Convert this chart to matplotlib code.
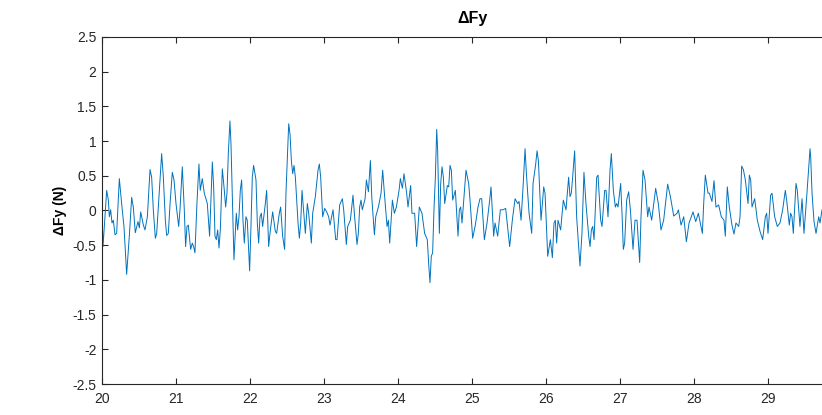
import numpy as np
import matplotlib
matplotlib.use('Agg')
import matplotlib.pyplot as plt

plt.rcParams['font.family'] = ['Liberation Sans', 'DejaVu Sans']
plt.rcParams['axes.unicode_minus'] = False

# values (time in s, force change in N)
t = [20.000, 20.014, 20.063, 20.086, 20.099, 20.117, 20.135, 20.153, 20.176, 20.198,
     20.234, 20.270, 20.297, 20.333, 20.369, 20.401, 20.423, 20.450, 20.486, 20.505,
     20.523, 20.559, 20.581, 20.613, 20.649, 20.671, 20.694, 20.721, 20.739, 20.770,
     20.806, 20.829, 20.856, 20.874, 20.896, 20.923, 20.950, 20.973, 21.000, 21.036,
     21.054, 21.085, 21.112, 21.130, 21.148, 21.166, 21.198, 21.220, 21.238, 21.256,
     21.283, 21.310, 21.328, 21.355, 21.382, 21.423, 21.454, 21.491, 21.509, 21.527,
     21.545, 21.563, 21.581, 21.599, 21.626, 21.653, 21.671, 21.689, 21.707, 21.729,
     21.743, 21.761, 21.783, 21.815, 21.833, 21.851, 21.869, 21.887, 21.905, 21.923,
     21.945, 21.963, 21.995, 22.013, 22.031, 22.049, 22.067,
     22.081, 22.099, 22.117, 22.135, 22.153, 22.171, 22.207, 22.225, 22.252, 22.270,
     22.306, 22.342, 22.360, 22.396, 22.414, 22.441, 22.468, 22.486, 22.505, 22.523,
     22.541, 22.559, 22.577, 22.595, 22.613, 22.649, 22.667, 22.685, 22.703, 22.721,
     22.748, 22.775, 22.793, 22.829, 22.847, 22.883, 22.919, 22.937, 22.955, 22.982,
     23.009, 23.036, 23.063, 23.081,
     23.104, 23.122, 23.158, 23.176, 23.212, 23.248, 23.266, 23.302, 23.320, 23.356,
     23.392, 23.410, 23.446, 23.464, 23.482, 23.500, 23.518, 23.555, 23.573, 23.600,
     23.627, 23.645, 23.681, 23.699, 23.735, 23.771, 23.793, 23.816, 23.852, 23.870,
     23.888, 23.924, 23.951, 23.978, 24.014, 24.032, 24.059,
     24.081, 24.117, 24.135, 24.171, 24.189, 24.225, 24.252, 24.270, 24.288, 24.324,
     24.360, 24.396, 24.414, 24.432, 24.450, 24.468, 24.486, 24.505, 24.523, 24.536,
     24.559, 24.577, 24.595, 24.613, 24.631, 24.667, 24.685, 24.703, 24.721, 24.739,
     24.775, 24.811, 24.829, 24.847, 24.865, 24.901, 24.919, 24.955, 24.973, 25.009,
     25.045, 25.081, 25.108,
     25.131, 25.167, 25.203, 25.239, 25.257, 25.293, 25.311, 25.347, 25.383, 25.419,
     25.455, 25.509, 25.545, 25.582, 25.618, 25.636, 25.663, 25.690, 25.717, 25.735,
     25.771, 25.807, 25.825, 25.861, 25.879, 25.897, 25.933, 25.969, 25.987, 26.023,
     26.059, 26.086,
     26.108, 26.126, 26.144, 26.162, 26.198, 26.234, 26.270, 26.306, 26.324, 26.342,
     26.360, 26.387, 26.414, 26.432, 26.459, 26.486, 26.513, 26.540, 26.577, 26.595,
     26.613, 26.631, 26.649, 26.685, 26.703, 26.739, 26.757, 26.793, 26.811, 26.838,
     26.865, 26.883, 26.910, 26.937, 26.955, 26.973, 27.009, 27.027, 27.045, 27.063,
     27.090, 27.117,
     27.140, 27.176, 27.203, 27.230, 27.266, 27.284, 27.311, 27.338, 27.374, 27.392,
     27.428, 27.482, 27.518, 27.554, 27.590, 27.644, 27.681, 27.726, 27.771, 27.789,
     27.825, 27.861, 27.897, 27.933, 27.987, 28.023, 28.059, 28.113, 28.131,
     28.153, 28.189, 28.207, 28.243, 28.270, 28.297, 28.333, 28.369, 28.405, 28.423,
     28.450, 28.477, 28.513, 28.540, 28.567, 28.604, 28.622, 28.644, 28.667, 28.694,
     28.730, 28.748, 28.766, 28.784, 28.820, 28.856, 28.892, 28.928, 28.964, 28.982,
     29.000, 29.036, 29.054, 29.090, 29.126, 29.162,
     29.198, 29.234, 29.252, 29.288, 29.306, 29.324, 29.342, 29.378, 29.396, 29.432,
     29.460, 29.486, 29.523, 29.541, 29.568, 29.577, 29.595, 29.622, 29.649, 29.685,
     29.703, 29.730]

dfy = [0.00, -0.52, 0.29, 0.15, -0.09, 0.01, -0.18, -0.14, -0.35, -0.33,
       0.46, 0.05, -0.23, -0.92, -0.37, 0.19, 0.05, -0.32, -0.16, -0.25,
       -0.02, -0.21, -0.28, -0.09, 0.59, 0.48, 0.00, -0.40, -0.33, 0.20,
       0.82, 0.48, -0.14, -0.36, -0.33, 0.15, 0.55, 0.44, 0.10, -0.23,
       0.01, 0.63, 0.01, -0.52, -0.23, -0.21, -0.56, -0.47, -0.52, -0.61,
       0.10, 0.67, 0.29, 0.46, 0.25, 0.10, -0.37, 0.70, 0.34, -0.37,
       -0.42, -0.28, -0.54, -0.28, 0.60, 0.29, 0.05, 0.25, 0.82, 1.29,
       0.96, 0.20, -0.71, -0.04, -0.28, -0.09, 0.29, 0.44, -0.14, -0.47,
       -0.09, -0.14, -0.87, -0.23, 0.48, 0.65, 0.53,
       0.44, -0.18, -0.47, -0.09, -0.04, -0.23, 0.10, 0.29, -0.52, -0.33,
       -0.02, -0.30, -0.33, -0.04, 0.05, -0.37, -0.56, 0.25, 0.77, 1.25,
       1.10, 0.72, 0.53, 0.65, 0.48, -0.18, -0.40, -0.18, 0.29, 0.05,
       -0.33, 0.10, -0.04, -0.47, -0.04, 0.20, 0.58, 0.67, 0.48, -0.09,
       0.03, -0.02, -0.09, -0.21,
       -0.09, 0.01, -0.42, -0.42, 0.08, 0.17, 0.01, -0.49, -0.23, -0.14,
       0.22, -0.04, -0.49, -0.33, 0.05, 0.15, 0.01, 0.17, 0.44, 0.27,
       0.72, 0.20, -0.35, -0.09, 0.05, 0.25, 0.58, 0.25, -0.23, -0.14,
       -0.47, 0.15, -0.04, 0.05, 0.29, 0.46, 0.32,
       0.53, 0.25, 0.05, 0.36, -0.04, -0.04, -0.52, -0.23, 0.05, -0.04,
       -0.33, -0.42, -0.76, -1.04, -0.66, -0.61, 0.01, 0.48, 1.17, 0.86,
       -0.33, 0.39, 0.63, 0.48, 0.10, 0.36, 0.34, 0.65, 0.58, 0.15,
       0.29, -0.37, 0.01, 0.05, -0.18, 0.34, 0.58, 0.39, 0.15, -0.40,
       -0.21, 0.05, 0.17,
       0.17, -0.42, -0.18, 0.15, 0.34, -0.37, -0.18, -0.37, 0.01, 0.01,
       0.03, -0.52, -0.14, 0.17, 0.10, 0.13, -0.14, 0.34, 0.89, 0.53,
       -0.04, -0.33, 0.39, 0.67, 0.86, 0.72, -0.14, 0.34, 0.25, -0.66,
       -0.42, -0.68,
       -0.18, -0.14, -0.47, -0.14, -0.28, 0.15, 0.01, 0.48, 0.20, 0.25,
       0.48, 0.86, -0.09, -0.37, -0.80, -0.33, 0.55, 0.10, -0.37, -0.52,
       -0.28, -0.23, -0.42, 0.48, 0.51, -0.14, -0.23, 0.29, 0.29, -0.09,
       0.58, 0.82, 0.29, 0.05, 0.10, 0.05, 0.39, -0.04, -0.56, -0.47,
       0.15, 0.27,
       0.01, -0.56, -0.14, -0.14, -0.75, -0.09, 0.58, 0.44, -0.09, 0.05,
       -0.14, 0.32, 0.10, -0.28, -0.14, 0.38, 0.20, -0.08, -0.04, 0.01,
       -0.21, -0.09, -0.45, -0.18, -0.02, -0.16, -0.04, -0.33, 0.10,
       0.51, 0.25, 0.25, 0.13, 0.43, 0.05, 0.08, -0.09, -0.14, -0.37,
       0.34, 0.05, -0.21, -0.34, -0.18, -0.23, -0.09, 0.64, 0.59, 0.44,
       0.10, 0.51, 0.44, 0.05, 0.17, -0.14, -0.30, -0.42, -0.09, -0.04,
       -0.33, 0.22, 0.25, -0.09, -0.23, -0.18,
       0.01, 0.29, 0.15, -0.21, -0.04, -0.09, -0.33, 0.39, 0.29, -0.23,
       0.17, -0.33, 0.20, 0.48, 0.89, 0.77, 0.25, -0.16, -0.33, -0.09,
       -0.18, 0.01]

xticks = list(range(20, 30))
yticks = [-2.5, -2, -1.5, -1, -0.5, 0, 0.5, 1, 1.5, 2, 2.5]
yticklabels = ['-2.5', '-2', '-1.5', '-1', '-0.5', '0', '0.5', '1', '1.5', '2', '2.5']

fig = plt.figure(figsize=(8.22, 4.15), dpi=100)
# axes run to t=30, the right part lies outside the figure as in the reference
ax = fig.add_axes([102/822, 31/415, 740/822, 347/415])

ax.plot(t, dfy, color='#0072BD', linewidth=0.7)

ax.set_xlim(20, 30)
ax.set_ylim(-2.5, 2.5)
ax.set_xticks(xticks)
ax.set_yticks(yticks)
ax.set_yticklabels(yticklabels)

grey = '#262626'
for s in ax.spines.values():
    s.set_color(grey)
    s.set_linewidth(0.8)
ax.tick_params(direction='in', length=4, width=0.8, colors=grey,
               labelsize=10, top=True, right=True)
ax.tick_params(axis='x', pad=6)
ax.tick_params(axis='y', pad=4)

ax.set_ylabel('ΔFy (N)', fontsize=10, fontweight='bold', color='black', labelpad=4)
ax.set_title('ΔFy', fontsize=11.5, fontweight='bold', color='black', pad=10)

fig.savefig('out.png', dpi=100)
